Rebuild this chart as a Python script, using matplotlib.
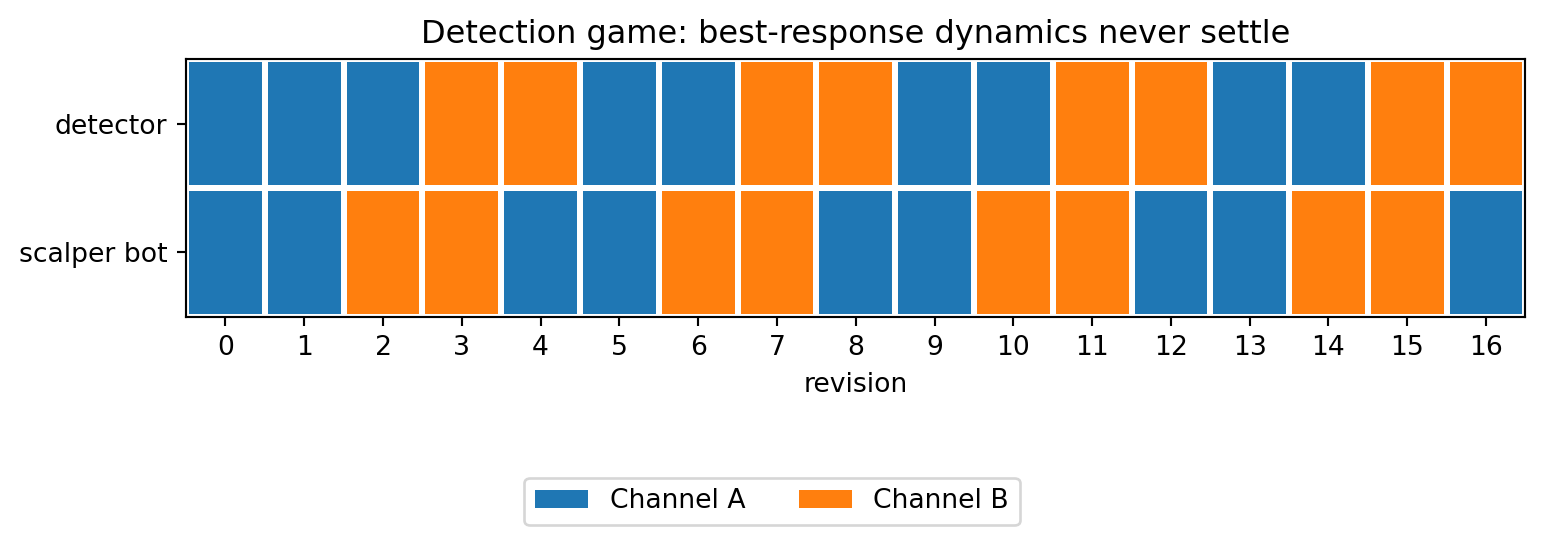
import numpy as np
import matplotlib
matplotlib.use("Agg")
import matplotlib.pyplot as plt
from matplotlib.colors import ListedColormap
from matplotlib.patches import Patch

# 0 = Channel A, 1 = Channel B
players = ["detector", "scalper bot"]
detector = [0, 0, 0, 1, 1, 0, 0, 1, 1, 0, 0, 1, 1, 0, 0, 1, 1]
scalper = [0, 0, 1, 1, 0, 0, 1, 1, 0, 0, 1, 1, 0, 0, 1, 1, 0]
channels = ["Channel A", "Channel B"]
colors = ["#1f77b4", "#ff7f0e"]

grid = np.array([detector, scalper])
n = grid.shape[1]

fig = plt.figure(figsize=(1544 / 192, 538 / 192), dpi=192)
ax = fig.add_axes([0.1205, 0.4115, 0.8675, 0.478])

x_edges = np.arange(n + 1) - 0.5
y_edges = np.arange(len(players) + 1) - 0.5
ax.pcolormesh(x_edges, y_edges, grid, cmap=ListedColormap(colors),
              vmin=0, vmax=1, edgecolors="white", linewidth=2.2)
ax.set_xlim(-0.5, n - 0.5)
ax.set_ylim(len(players) - 0.5, -0.5)
ax.set_xticks(np.arange(n))
ax.set_yticks(np.arange(len(players)))
ax.set_yticklabels(players)
ax.set_xlabel("revision")
ax.set_title("Detection game: best-response dynamics never settle")

handles = [Patch(facecolor=c, label=l) for c, l in zip(colors, channels)]
fig.legend(handles=handles, loc="center", ncol=2,
           bbox_to_anchor=(0.5, 0.068))

fig.savefig("out.png", dpi=192)
